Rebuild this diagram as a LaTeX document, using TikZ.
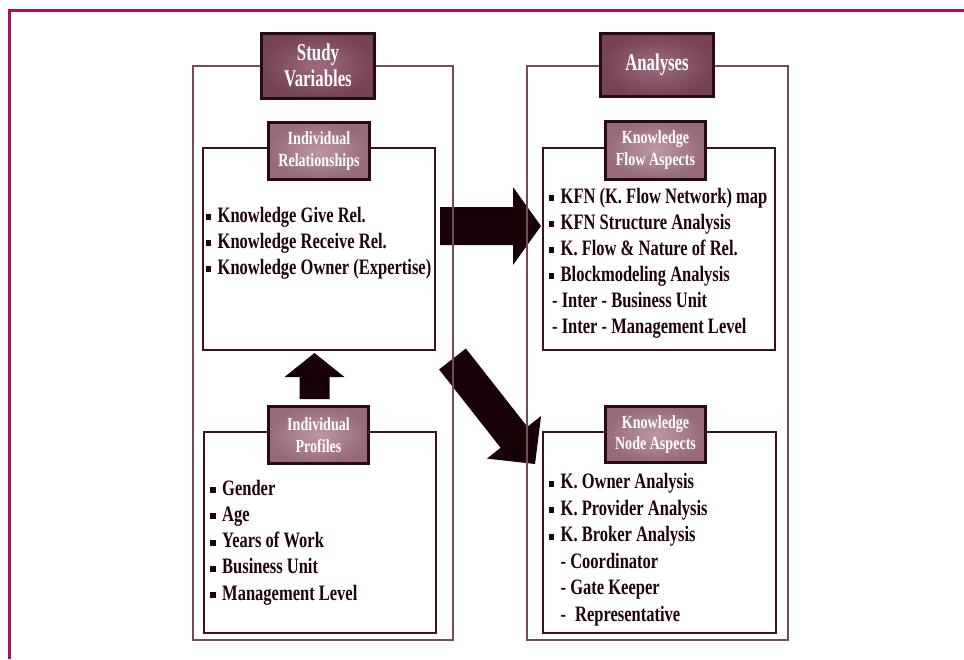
\documentclass[tikz,border=0pt]{standalone}
\usepackage{fontspec}
\setmainfont{Liberation Serif}
\newfontfamily\itemfont{Liberation Serif}[FakeStretch=0.75]
\newfontfamily\subfont{Liberation Serif}[FakeStretch=0.76]
\newfontfamily\headfont{Liberation Serif}[FakeStretch=0.7]
\usetikzlibrary{calc}
\definecolor{framecol}{RGB}{160,20,95}
\definecolor{outerline}{RGB}{115,75,90}
\definecolor{innerline}{RGB}{55,20,32}
\definecolor{textcol}{RGB}{30,3,12}
\definecolor{arrowfill}{RGB}{25,0,8}
\definecolor{headin}{RGB}{158,108,126}
\definecolor{headout}{RGB}{118,66,86}
\definecolor{subin}{RGB}{188,152,163}
\definecolor{subout}{RGB}{150,106,121}
\definecolor{headborder}{RGB}{40,10,20}
\newcommand\blockarrow[5]{%
  \coordinate (#2h) at ($(#2)!#5!(#1)$);
  \fill[arrowfill] ($(#1)!#3!90:(#2)$) -- ($(#2h)!#3!-90:(#1)$) -- ($(#2h)!#4!-90:(#1)$) -- (#2) -- ($(#2h)!#4!90:(#1)$) -- ($(#2h)!#3!90:(#1)$) -- ($(#1)!#3!-90:(#2)$) -- cycle;}
\newcommand\bul{\makebox[12pt][l]{\rule[2pt]{5.5pt}{6pt}}}
\tikzset{
  outerbox/.style={draw=outerline, line width=1.5pt, inner sep=0pt},
  innerbox/.style={draw=innerline, line width=1.4pt, fill=white, inner sep=0pt},
  headbox/.style={draw=headborder, line width=3pt, inner color=headin, outer color=headout,
    text=white, align=center, inner sep=0pt,
    font=\headfont\bfseries\fontsize{24}{26}\selectfont},
  subbox/.style={draw=headborder, line width=3pt, inner color=subin, outer color=subout,
    text=white, align=center, inner sep=0pt,
    font=\subfont\bfseries\fontsize{18.5}{21.5}\selectfont},
  item/.style={anchor=base west, inner sep=0pt, text=textcol,
    font=\itemfont\bfseries\fontsize{22}{26}\selectfont},
}
\begin{document}
\begin{tikzpicture}[x=1pt,y=-1pt]
\useasboundingbox (0,0) rectangle (964,659);
% page frame
\draw[framecol, line width=3pt] (9.5,659) -- (9.5,10) -- (964,10);
% block arrows
\coordinate (rA) at (440,226); \coordinate (rB) at (541,226);
\coordinate (uA) at (314.5,399); \coordinate (uB) at (314.5,353);
\coordinate (dA) at (452.5,359); \coordinate (dB) at (535,464);
\blockarrow{rA}{rB}{19pt}{39pt}{28pt}
\blockarrow{uA}{uB}{15pt}{30pt}{24pt}
\blockarrow{dA}{dB}{17pt}{34.5pt}{34pt}
% panels
\node[outerbox, minimum width=260pt, minimum height=574pt] (leftpanel) at (323,353) {};
\node[outerbox, minimum width=261pt, minimum height=574pt] (rightpanel) at (657.5,353) {};
\node[innerbox, minimum width=232pt, minimum height=202pt] (relbox) at (319,249) {};
\node[innerbox, minimum width=232pt, minimum height=201pt] (profbox) at (320,532.5) {};
\node[innerbox, minimum width=232pt, minimum height=202pt] (flowbox) at (659,249) {};
\node[innerbox, minimum width=233pt, minimum height=201pt] (nodebox) at (659.5,532.5) {};
% headers
\node[headbox, minimum width=113pt, minimum height=65pt] (sv) at (318,65.5) {Study\\Variables};
\node[headbox, minimum width=113pt, minimum height=63pt] (an) at (657,65) {Analyses};
\node[subbox, minimum width=101pt, minimum height=57pt] (ir) at (319,151) {Individual\\Relationships};
\node[subbox, minimum width=100pt, minimum height=58pt] (kf) at (655.5,150) {Knowledge\\Flow Aspects};
\node[subbox, minimum width=100pt, minimum height=57pt] (ip) at (318.5,435) {Individual\\Profiles};
\node[subbox, minimum width=100pt, minimum height=56pt] (kn) at (655.5,434.5) {Knowledge\\Node Aspects};
% lists
\foreach \txt [count=\i] in {{Knowledge Give Rel.},{Knowledge Receive Rel.},{Knowledge Owner (Expertise)}}
  \node[item] (rel\i) at (205.5,{222+26*(\i-1)}) {\bul\txt};
\foreach \txt [count=\i] in {{Gender},{Age},{Years of Work},{Business Unit},{Management Level}}
  \node[item] (prof\i) at (210,{495+26.3*(\i-1)}) {\bul\txt};
\foreach \txt [count=\i] in {{KFN (K. Flow Network) map},{KFN Structure Analysis},{K. Flow \& Nature of Rel.},{Blockmodeling Analysis}}
  \node[item] (flow\i) at (548.5,{203+26*(\i-1)}) {\bul\txt};
\node[item] (flow5) at (552,307.5) {- Inter - Business Unit};
\node[item] (flow6) at (552,333.5) {- Inter - Management Level};
\foreach \txt [count=\i] in {{K. Owner Analysis},{K. Provider Analysis},{K. Broker Analysis}}
  \node[item] (kn\i) at (548.5,{488.5+26.6*(\i-1)}) {\bul\txt};
\node[item] (kn4) at (560.5,568) {- Coordinator};
\node[item] (kn5) at (560.5,594.5) {- Gate Keeper};
\node[item] (kn6) at (560.5,621) {-\hspace{9pt}Representative};
\end{tikzpicture}
\end{document}
